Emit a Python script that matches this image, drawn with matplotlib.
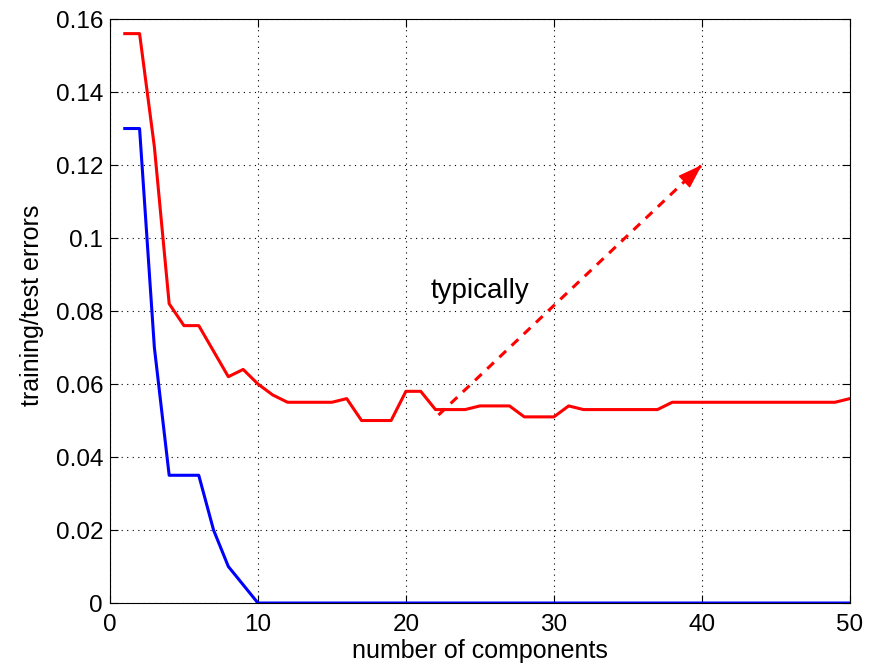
import matplotlib.pyplot as plt
import numpy as np

plt.rcParams['font.family'] = ['Liberation Sans', 'DejaVu Sans']

components = np.arange(1, 51)
test_err = [0.156, 0.156, 0.125, 0.082, 0.076, 0.076, 0.069, 0.062, 0.064, 0.060,
            0.057, 0.055, 0.055, 0.055, 0.055, 0.056, 0.050, 0.050, 0.050, 0.058,
            0.058, 0.053, 0.053, 0.053, 0.054, 0.054, 0.054, 0.051, 0.051, 0.051,
            0.054, 0.053, 0.053, 0.053, 0.053, 0.053, 0.053, 0.055, 0.055, 0.055,
            0.055, 0.055, 0.055, 0.055, 0.055, 0.055, 0.055, 0.055, 0.055, 0.056]
train_err = [0.130, 0.130, 0.070, 0.035, 0.035, 0.035, 0.020, 0.010, 0.005] + [0.0] * 41

arrow_x = [22.2, 40.0]
arrow_y = [0.0515, 0.120]
note_pos = (21.7, 0.0855)
note_text = 'typically'

fig = plt.figure(figsize=(8.77, 6.65), dpi=100)
ax = fig.add_axes([0.1254, 0.0932, 0.8436, 0.8782])

ax.plot(components, test_err, color='#ff0000', lw=2.2)
ax.plot(components, train_err, color='#0000ff', lw=2.2)

# dashed shaft, then a solid head at the end
ax.plot(arrow_x, arrow_y, color='#ff0000', lw=2.2, linestyle=(0, (3, 2.5)))
tail = (arrow_x[1] - 0.05 * (arrow_x[1] - arrow_x[0]),
        arrow_y[1] - 0.05 * (arrow_y[1] - arrow_y[0]))
ax.annotate('', xy=(arrow_x[1], arrow_y[1]), xytext=tail,
            arrowprops=dict(arrowstyle='-|>,head_length=0.65,head_width=0.22',
                            color='#ff0000', lw=1, mutation_scale=24,
                            shrinkA=0, shrinkB=0))
ax.text(note_pos[0], note_pos[1], note_text, fontsize=20, va='center', ha='left')

ax.set_xlim(0, 50)
ax.set_ylim(0, 0.16)
ax.set_xticks([0, 10, 20, 30, 40, 50])
ax.set_yticks([0, 0.02, 0.04, 0.06, 0.08, 0.1, 0.12, 0.14, 0.16])
ax.set_yticklabels(['0', '0.02', '0.04', '0.06', '0.08', '0.1', '0.12', '0.14', '0.16'])
ax.tick_params(direction='in', labelsize=17.5, top=True, right=True, length=6)
ax.tick_params(axis='x', pad=8)
ax.tick_params(axis='y', pad=5)
ax.grid(True, color='black', linestyle=(0, (1, 4)), lw=0.8)

ax.set_xlabel('number of components', fontsize=18)
ax.set_ylabel('training/test errors', fontsize=18)
ax.xaxis.set_label_coords(0.5, -0.062)
ax.yaxis.set_label_coords(-0.089, 0.51)

fig.savefig('out.png', dpi=100)
